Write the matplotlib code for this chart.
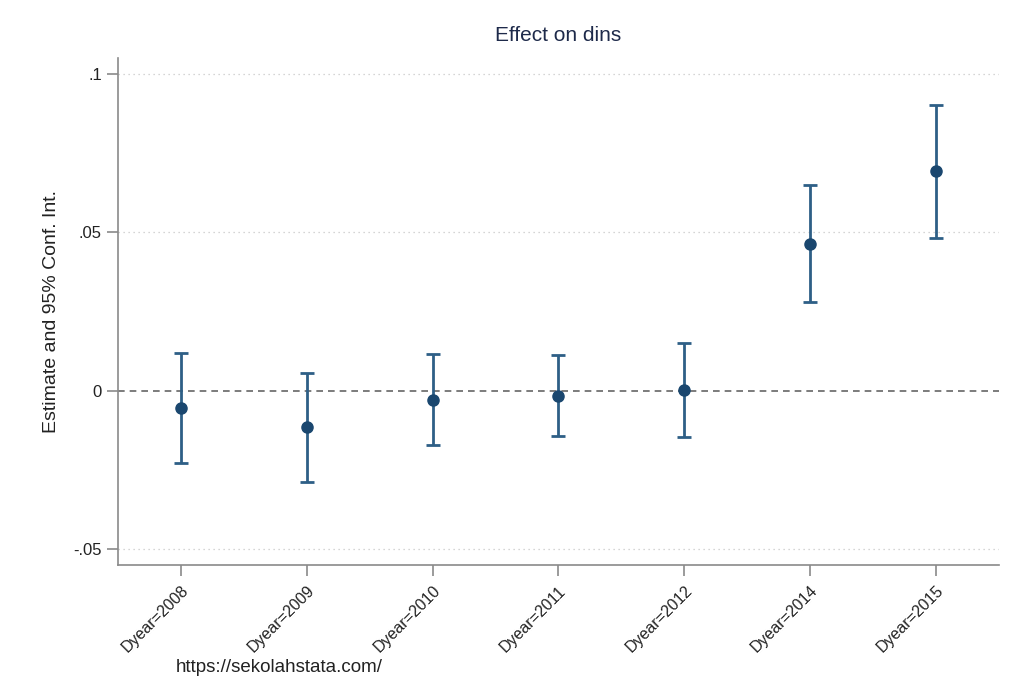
import matplotlib

matplotlib.use("Agg")
import matplotlib.pyplot as plt

plt.rcParams["font.family"] = ["Liberation Sans", "DejaVu Sans"]

LABELS = ["Dyear=2008", "Dyear=2009", "Dyear=2010", "Dyear=2011", "Dyear=2012", "Dyear=2014", "Dyear=2015"]
ESTIMATES = [-0.0054, -0.0114, -0.0028, -0.0016, 0.0003, 0.0464, 0.0694]
CI_LOW = [-0.0227, -0.0287, -0.0170, -0.0142, -0.0145, 0.0281, 0.0483]
CI_HIGH = [0.0120, 0.0057, 0.0117, 0.0114, 0.0151, 0.0650, 0.0902]
YTICKS = [-0.05, 0, 0.05, 0.1]
YTICK_LABELS = ["-.05", "0", ".05", ".1"]

MARKER_COLOR = "#1a476f"
BAR_COLOR = "#2e5f86"
AXIS_COLOR = "#8a8a8a"

fig = plt.figure(figsize=(10.24, 6.83), dpi=100)
ax = fig.add_axes([0.1152, 0.1728, 0.8604, 0.7422])

x = list(range(len(LABELS)))
yerr = [
    [e - lo for e, lo in zip(ESTIMATES, CI_LOW)],
    [hi - e for e, hi in zip(ESTIMATES, CI_HIGH)],
]

# reference lines
for yt in YTICKS:
    if yt != 0:
        ax.axhline(yt, color="#c8c8c8", linestyle=(0, (1, 3)), linewidth=0.9, zorder=0)
ax.axhline(0, color="#666666", linestyle=(0, (4, 3)), linewidth=1.2, zorder=1)

ax.errorbar(
    x,
    ESTIMATES,
    yerr=yerr,
    fmt="o",
    color=MARKER_COLOR,
    ecolor=BAR_COLOR,
    elinewidth=2,
    capsize=5,
    capthick=2,
    markersize=8,
    zorder=3,
)

ax.set_xlim(-0.5, 6.5)
ax.set_ylim(-0.0549, 0.105)
ax.set_xticks(x)
ax.set_xticklabels(LABELS, rotation=45, ha="right", rotation_mode="anchor", fontsize=11.5)
ax.set_yticks(YTICKS)
ax.set_yticklabels(YTICK_LABELS, fontsize=12)
ax.tick_params(axis="both", colors=AXIS_COLOR, length=8, width=1.2, labelcolor="#222222")
ax.tick_params(axis="x", pad=5)

for side in ("top", "right"):
    ax.spines[side].set_visible(False)
for side in ("left", "bottom"):
    ax.spines[side].set_color(AXIS_COLOR)
    ax.spines[side].set_linewidth(1.2)

ax.set_ylabel("Estimate and 95% Conf. Int.", fontsize=14, color="#222222", labelpad=10)
ax.set_title("Effect on dins", fontsize=15, color="#1e2a4a", pad=12)

fig.text(0.2725, 0.022, "https://sekolahstata.com/", fontsize=13.5, color="#222222", ha="center", va="center")

fig.savefig("out.png", dpi=100)
